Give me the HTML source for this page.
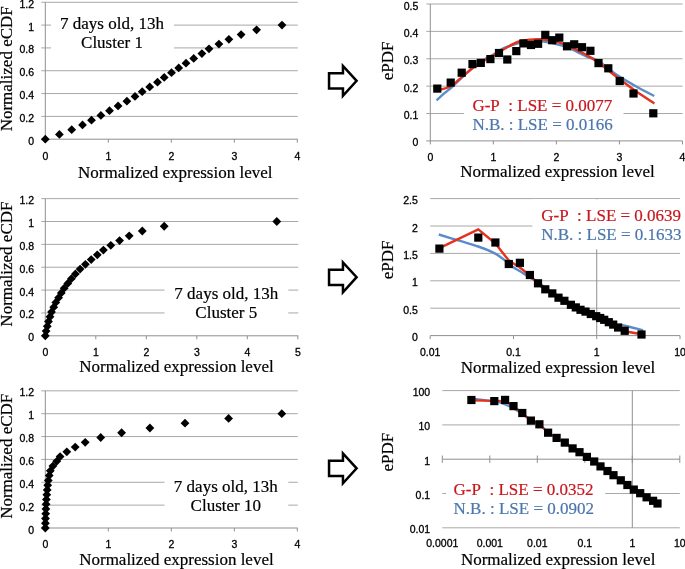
<!DOCTYPE html>
<html><head><meta charset="utf-8"><style>
html,body{margin:0;padding:0;background:#fff;}
body{width:685px;height:569px;overflow:hidden;}
svg{display:block;will-change:transform;filter:blur(0.3px);}
</style></head><body>
<svg width="685" height="569" viewBox="0 0 685 569">
<rect width="685" height="569" fill="#fff"/>
<line x1="41.3" y1="116.38" x2="297.8" y2="116.38" stroke="#a8a8a8" stroke-width="1"/>
<line x1="41.3" y1="93.56" x2="297.8" y2="93.56" stroke="#a8a8a8" stroke-width="1"/>
<line x1="41.3" y1="70.74" x2="297.8" y2="70.74" stroke="#a8a8a8" stroke-width="1"/>
<line x1="41.3" y1="47.92" x2="297.8" y2="47.92" stroke="#a8a8a8" stroke-width="1"/>
<line x1="41.3" y1="25.1" x2="297.8" y2="25.1" stroke="#a8a8a8" stroke-width="1"/>
<line x1="41.3" y1="2.28" x2="297.8" y2="2.28" stroke="#a8a8a8" stroke-width="1"/>
<line x1="45.3" y1="2.28" x2="45.3" y2="139.2" stroke="#8f8f8f" stroke-width="1"/>
<line x1="41.3" y1="139.2" x2="45.3" y2="139.2" stroke="#8f8f8f" stroke-width="1"/>
<line x1="45.3" y1="139.2" x2="297.8" y2="139.2" stroke="#8f8f8f" stroke-width="1"/>
<line x1="45.3" y1="139.2" x2="45.3" y2="142.7" stroke="#8f8f8f" stroke-width="1"/>
<line x1="108.3" y1="139.2" x2="108.3" y2="142.7" stroke="#8f8f8f" stroke-width="1"/>
<line x1="171.3" y1="139.2" x2="171.3" y2="142.7" stroke="#8f8f8f" stroke-width="1"/>
<line x1="234.3" y1="139.2" x2="234.3" y2="142.7" stroke="#8f8f8f" stroke-width="1"/>
<line x1="297.3" y1="139.2" x2="297.3" y2="142.7" stroke="#8f8f8f" stroke-width="1"/>
<rect x="51" y="14" width="123" height="40" fill="#fff"/>
<text x="34" y="144.7" text-anchor="end" font-family='"Liberation Sans", sans-serif' font-size="10.5" fill="#000" stroke="#000" stroke-width="0.3">0</text>
<text x="34" y="121.88" text-anchor="end" font-family='"Liberation Sans", sans-serif' font-size="10.5" fill="#000" stroke="#000" stroke-width="0.3">0.2</text>
<text x="34" y="99.06" text-anchor="end" font-family='"Liberation Sans", sans-serif' font-size="10.5" fill="#000" stroke="#000" stroke-width="0.3">0.4</text>
<text x="34" y="76.24" text-anchor="end" font-family='"Liberation Sans", sans-serif' font-size="10.5" fill="#000" stroke="#000" stroke-width="0.3">0.6</text>
<text x="34" y="53.42" text-anchor="end" font-family='"Liberation Sans", sans-serif' font-size="10.5" fill="#000" stroke="#000" stroke-width="0.3">0.8</text>
<text x="34" y="30.6" text-anchor="end" font-family='"Liberation Sans", sans-serif' font-size="10.5" fill="#000" stroke="#000" stroke-width="0.3">1</text>
<text x="34" y="7.78" text-anchor="end" font-family='"Liberation Sans", sans-serif' font-size="10.5" fill="#000" stroke="#000" stroke-width="0.3">1.2</text>
<text x="45.3" y="159.5" text-anchor="middle" font-family='"Liberation Sans", sans-serif' font-size="10.5" fill="#000" stroke="#000" stroke-width="0.3">0</text>
<text x="108.3" y="159.5" text-anchor="middle" font-family='"Liberation Sans", sans-serif' font-size="10.5" fill="#000" stroke="#000" stroke-width="0.3">1</text>
<text x="171.3" y="159.5" text-anchor="middle" font-family='"Liberation Sans", sans-serif' font-size="10.5" fill="#000" stroke="#000" stroke-width="0.3">2</text>
<text x="234.3" y="159.5" text-anchor="middle" font-family='"Liberation Sans", sans-serif' font-size="10.5" fill="#000" stroke="#000" stroke-width="0.3">3</text>
<text x="297.3" y="159.5" text-anchor="middle" font-family='"Liberation Sans", sans-serif' font-size="10.5" fill="#000" stroke="#000" stroke-width="0.3">4</text>
<text x="78" y="178" text-anchor="start" font-family='"Liberation Serif", serif' font-size="17" fill="#000" stroke="#000" stroke-width="0.2">Normalized expression level</text>
<text transform="translate(11.9,68.8) rotate(-90)" text-anchor="middle" font-family='"Liberation Serif", serif' font-size="17" fill="#000" stroke="#000" stroke-width="0.2">Normalized eCDF</text>
<text x="112" y="28.7" text-anchor="middle" font-family='"Liberation Serif", serif' font-size="17" fill="#000" stroke="#000" stroke-width="0.2">7 days old, 13h</text>
<text x="112" y="47.7" text-anchor="middle" font-family='"Liberation Serif", serif' font-size="17" fill="#000" stroke="#000" stroke-width="0.2">Cluster 1</text>
<polygon points="45.3,134.8 49.7,139.2 45.3,143.6 40.9,139.2" fill="#000"/>
<polygon points="59.4,130.05 63.8,134.45 59.4,138.85 55,134.45" fill="#000"/>
<polygon points="71.7,125.29 76.1,129.69 71.7,134.09 67.3,129.69" fill="#000"/>
<polygon points="82.5,120.54 86.9,124.94 82.5,129.34 78.1,124.94" fill="#000"/>
<polygon points="91.5,115.78 95.9,120.18 91.5,124.58 87.1,120.18" fill="#000"/>
<polygon points="100.9,111.03 105.3,115.43 100.9,119.83 96.5,115.43" fill="#000"/>
<polygon points="109.5,106.27 113.9,110.67 109.5,115.07 105.1,110.67" fill="#000"/>
<polygon points="118.1,101.52 122.5,105.92 118.1,110.32 113.7,105.92" fill="#000"/>
<polygon points="126.9,96.77 131.3,101.17 126.9,105.57 122.5,101.17" fill="#000"/>
<polygon points="135,92.01 139.4,96.41 135,100.81 130.6,96.41" fill="#000"/>
<polygon points="142.2,87.26 146.6,91.66 142.2,96.06 137.8,91.66" fill="#000"/>
<polygon points="149.7,82.5 154.1,86.9 149.7,91.3 145.3,86.9" fill="#000"/>
<polygon points="157.5,77.75 161.9,82.15 157.5,86.55 153.1,82.15" fill="#000"/>
<polygon points="164.2,73 168.6,77.4 164.2,81.8 159.8,77.4" fill="#000"/>
<polygon points="171.5,68.24 175.9,72.64 171.5,77.04 167.1,72.64" fill="#000"/>
<polygon points="178.7,63.49 183.1,67.89 178.7,72.29 174.3,67.89" fill="#000"/>
<polygon points="186,58.73 190.4,63.13 186,67.53 181.6,63.13" fill="#000"/>
<polygon points="193.7,53.98 198.1,58.38 193.7,62.78 189.3,58.38" fill="#000"/>
<polygon points="201.9,49.23 206.3,53.62 201.9,58.02 197.5,53.62" fill="#000"/>
<polygon points="209,44.47 213.4,48.87 209,53.27 204.6,48.87" fill="#000"/>
<polygon points="218.9,39.72 223.3,44.12 218.9,48.52 214.5,44.12" fill="#000"/>
<polygon points="228.9,34.96 233.3,39.36 228.9,43.76 224.5,39.36" fill="#000"/>
<polygon points="241.1,30.21 245.5,34.61 241.1,39.01 236.7,34.61" fill="#000"/>
<polygon points="256.6,25.45 261,29.85 256.6,34.25 252.2,29.85" fill="#000"/>
<polygon points="282,20.7 286.4,25.1 282,29.5 277.6,25.1" fill="#000"/>
<line x1="41.3" y1="312.94" x2="298.3" y2="312.94" stroke="#a8a8a8" stroke-width="1"/>
<line x1="41.3" y1="290.08" x2="298.3" y2="290.08" stroke="#a8a8a8" stroke-width="1"/>
<line x1="41.3" y1="267.22" x2="298.3" y2="267.22" stroke="#a8a8a8" stroke-width="1"/>
<line x1="41.3" y1="244.36" x2="298.3" y2="244.36" stroke="#a8a8a8" stroke-width="1"/>
<line x1="41.3" y1="221.5" x2="298.3" y2="221.5" stroke="#a8a8a8" stroke-width="1"/>
<line x1="41.3" y1="198.64" x2="298.3" y2="198.64" stroke="#a8a8a8" stroke-width="1"/>
<line x1="45.3" y1="198.64" x2="45.3" y2="335.8" stroke="#8f8f8f" stroke-width="1"/>
<line x1="41.3" y1="335.8" x2="45.3" y2="335.8" stroke="#8f8f8f" stroke-width="1"/>
<line x1="45.3" y1="335.8" x2="298.3" y2="335.8" stroke="#8f8f8f" stroke-width="1"/>
<line x1="45.3" y1="335.8" x2="45.3" y2="339.3" stroke="#8f8f8f" stroke-width="1"/>
<line x1="95.8" y1="335.8" x2="95.8" y2="339.3" stroke="#8f8f8f" stroke-width="1"/>
<line x1="146.3" y1="335.8" x2="146.3" y2="339.3" stroke="#8f8f8f" stroke-width="1"/>
<line x1="196.8" y1="335.8" x2="196.8" y2="339.3" stroke="#8f8f8f" stroke-width="1"/>
<line x1="247.3" y1="335.8" x2="247.3" y2="339.3" stroke="#8f8f8f" stroke-width="1"/>
<line x1="297.8" y1="335.8" x2="297.8" y2="339.3" stroke="#8f8f8f" stroke-width="1"/>
<rect x="164.5" y="284" width="123.8" height="40" fill="#fff"/>
<text x="34" y="341.3" text-anchor="end" font-family='"Liberation Sans", sans-serif' font-size="10.5" fill="#000" stroke="#000" stroke-width="0.3">0</text>
<text x="34" y="318.44" text-anchor="end" font-family='"Liberation Sans", sans-serif' font-size="10.5" fill="#000" stroke="#000" stroke-width="0.3">0.2</text>
<text x="34" y="295.58" text-anchor="end" font-family='"Liberation Sans", sans-serif' font-size="10.5" fill="#000" stroke="#000" stroke-width="0.3">0.4</text>
<text x="34" y="272.72" text-anchor="end" font-family='"Liberation Sans", sans-serif' font-size="10.5" fill="#000" stroke="#000" stroke-width="0.3">0.6</text>
<text x="34" y="249.86" text-anchor="end" font-family='"Liberation Sans", sans-serif' font-size="10.5" fill="#000" stroke="#000" stroke-width="0.3">0.8</text>
<text x="34" y="227" text-anchor="end" font-family='"Liberation Sans", sans-serif' font-size="10.5" fill="#000" stroke="#000" stroke-width="0.3">1</text>
<text x="34" y="204.14" text-anchor="end" font-family='"Liberation Sans", sans-serif' font-size="10.5" fill="#000" stroke="#000" stroke-width="0.3">1.2</text>
<text x="45.3" y="356.1" text-anchor="middle" font-family='"Liberation Sans", sans-serif' font-size="10.5" fill="#000" stroke="#000" stroke-width="0.3">0</text>
<text x="95.8" y="356.1" text-anchor="middle" font-family='"Liberation Sans", sans-serif' font-size="10.5" fill="#000" stroke="#000" stroke-width="0.3">1</text>
<text x="146.3" y="356.1" text-anchor="middle" font-family='"Liberation Sans", sans-serif' font-size="10.5" fill="#000" stroke="#000" stroke-width="0.3">2</text>
<text x="196.8" y="356.1" text-anchor="middle" font-family='"Liberation Sans", sans-serif' font-size="10.5" fill="#000" stroke="#000" stroke-width="0.3">3</text>
<text x="247.3" y="356.1" text-anchor="middle" font-family='"Liberation Sans", sans-serif' font-size="10.5" fill="#000" stroke="#000" stroke-width="0.3">4</text>
<text x="297.8" y="356.1" text-anchor="middle" font-family='"Liberation Sans", sans-serif' font-size="10.5" fill="#000" stroke="#000" stroke-width="0.3">5</text>
<text x="79.2" y="372.3" text-anchor="start" font-family='"Liberation Serif", serif' font-size="17" fill="#000" stroke="#000" stroke-width="0.2">Normalized expression level</text>
<text transform="translate(11.9,264.1) rotate(-90)" text-anchor="middle" font-family='"Liberation Serif", serif' font-size="17" fill="#000" stroke="#000" stroke-width="0.2">Normalized eCDF</text>
<text x="226.3" y="299.4" text-anchor="middle" font-family='"Liberation Serif", serif' font-size="17" fill="#000" stroke="#000" stroke-width="0.2">7 days old, 13h</text>
<text x="226.3" y="318.4" text-anchor="middle" font-family='"Liberation Serif", serif' font-size="17" fill="#000" stroke="#000" stroke-width="0.2">Cluster 5</text>
<polygon points="45.3,331.4 49.7,335.8 45.3,340.2 40.9,335.8" fill="#000"/>
<polygon points="46.1,326.64 50.5,331.04 46.1,335.44 41.7,331.04" fill="#000"/>
<polygon points="47.3,321.88 51.7,326.28 47.3,330.68 42.9,326.28" fill="#000"/>
<polygon points="48.5,317.11 52.9,321.51 48.5,325.91 44.1,321.51" fill="#000"/>
<polygon points="50,312.35 54.4,316.75 50,321.15 45.6,316.75" fill="#000"/>
<polygon points="51.5,307.59 55.9,311.99 51.5,316.39 47.1,311.99" fill="#000"/>
<polygon points="53.7,302.83 58.1,307.23 53.7,311.62 49.3,307.23" fill="#000"/>
<polygon points="55.8,298.06 60.2,302.46 55.8,306.86 51.4,302.46" fill="#000"/>
<polygon points="58.6,293.3 63,297.7 58.6,302.1 54.2,297.7" fill="#000"/>
<polygon points="61.3,288.54 65.7,292.94 61.3,297.34 56.9,292.94" fill="#000"/>
<polygon points="64.2,283.78 68.6,288.18 64.2,292.57 59.8,288.18" fill="#000"/>
<polygon points="67.8,279.01 72.2,283.41 67.8,287.81 63.4,283.41" fill="#000"/>
<polygon points="71.4,274.25 75.8,278.65 71.4,283.05 67,278.65" fill="#000"/>
<polygon points="75.4,269.49 79.8,273.89 75.4,278.29 71,273.89" fill="#000"/>
<polygon points="80.1,264.73 84.5,269.12 80.1,273.52 75.7,269.12" fill="#000"/>
<polygon points="85.4,259.96 89.8,264.36 85.4,268.76 81,264.36" fill="#000"/>
<polygon points="91.2,255.2 95.6,259.6 91.2,264 86.8,259.6" fill="#000"/>
<polygon points="97.3,250.44 101.7,254.84 97.3,259.24 92.9,254.84" fill="#000"/>
<polygon points="103.4,245.67 107.8,250.07 103.4,254.47 99,250.07" fill="#000"/>
<polygon points="110.8,240.91 115.2,245.31 110.8,249.71 106.4,245.31" fill="#000"/>
<polygon points="119.6,236.15 124,240.55 119.6,244.95 115.2,240.55" fill="#000"/>
<polygon points="129.2,231.39 133.6,235.79 129.2,240.19 124.8,235.79" fill="#000"/>
<polygon points="142.3,226.62 146.7,231.03 142.3,235.43 137.9,231.03" fill="#000"/>
<polygon points="164.2,221.86 168.6,226.26 164.2,230.66 159.8,226.26" fill="#000"/>
<polygon points="276.8,217.1 281.2,221.5 276.8,225.9 272.4,221.5" fill="#000"/>
<line x1="41.3" y1="505.14" x2="297.8" y2="505.14" stroke="#a8a8a8" stroke-width="1"/>
<line x1="41.3" y1="482.28" x2="297.8" y2="482.28" stroke="#a8a8a8" stroke-width="1"/>
<line x1="41.3" y1="459.42" x2="297.8" y2="459.42" stroke="#a8a8a8" stroke-width="1"/>
<line x1="41.3" y1="436.56" x2="297.8" y2="436.56" stroke="#a8a8a8" stroke-width="1"/>
<line x1="41.3" y1="413.7" x2="297.8" y2="413.7" stroke="#a8a8a8" stroke-width="1"/>
<line x1="41.3" y1="390.84" x2="297.8" y2="390.84" stroke="#a8a8a8" stroke-width="1"/>
<line x1="45.3" y1="390.84" x2="45.3" y2="528" stroke="#8f8f8f" stroke-width="1"/>
<line x1="41.3" y1="528" x2="45.3" y2="528" stroke="#8f8f8f" stroke-width="1"/>
<line x1="45.3" y1="528" x2="297.8" y2="528" stroke="#8f8f8f" stroke-width="1"/>
<line x1="45.3" y1="528" x2="45.3" y2="531.5" stroke="#8f8f8f" stroke-width="1"/>
<line x1="108.3" y1="528" x2="108.3" y2="531.5" stroke="#8f8f8f" stroke-width="1"/>
<line x1="171.3" y1="528" x2="171.3" y2="531.5" stroke="#8f8f8f" stroke-width="1"/>
<line x1="234.3" y1="528" x2="234.3" y2="531.5" stroke="#8f8f8f" stroke-width="1"/>
<line x1="297.3" y1="528" x2="297.3" y2="531.5" stroke="#8f8f8f" stroke-width="1"/>
<rect x="164.5" y="476" width="123.8" height="40" fill="#fff"/>
<text x="34" y="533.5" text-anchor="end" font-family='"Liberation Sans", sans-serif' font-size="10.5" fill="#000" stroke="#000" stroke-width="0.3">0</text>
<text x="34" y="510.64" text-anchor="end" font-family='"Liberation Sans", sans-serif' font-size="10.5" fill="#000" stroke="#000" stroke-width="0.3">0.2</text>
<text x="34" y="487.78" text-anchor="end" font-family='"Liberation Sans", sans-serif' font-size="10.5" fill="#000" stroke="#000" stroke-width="0.3">0.4</text>
<text x="34" y="464.92" text-anchor="end" font-family='"Liberation Sans", sans-serif' font-size="10.5" fill="#000" stroke="#000" stroke-width="0.3">0.6</text>
<text x="34" y="442.06" text-anchor="end" font-family='"Liberation Sans", sans-serif' font-size="10.5" fill="#000" stroke="#000" stroke-width="0.3">0.8</text>
<text x="34" y="419.2" text-anchor="end" font-family='"Liberation Sans", sans-serif' font-size="10.5" fill="#000" stroke="#000" stroke-width="0.3">1</text>
<text x="34" y="396.34" text-anchor="end" font-family='"Liberation Sans", sans-serif' font-size="10.5" fill="#000" stroke="#000" stroke-width="0.3">1.2</text>
<text x="45.3" y="548.3" text-anchor="middle" font-family='"Liberation Sans", sans-serif' font-size="10.5" fill="#000" stroke="#000" stroke-width="0.3">0</text>
<text x="108.3" y="548.3" text-anchor="middle" font-family='"Liberation Sans", sans-serif' font-size="10.5" fill="#000" stroke="#000" stroke-width="0.3">1</text>
<text x="171.3" y="548.3" text-anchor="middle" font-family='"Liberation Sans", sans-serif' font-size="10.5" fill="#000" stroke="#000" stroke-width="0.3">2</text>
<text x="234.3" y="548.3" text-anchor="middle" font-family='"Liberation Sans", sans-serif' font-size="10.5" fill="#000" stroke="#000" stroke-width="0.3">3</text>
<text x="297.3" y="548.3" text-anchor="middle" font-family='"Liberation Sans", sans-serif' font-size="10.5" fill="#000" stroke="#000" stroke-width="0.3">4</text>
<text x="79.2" y="565.2" text-anchor="start" font-family='"Liberation Serif", serif' font-size="17" fill="#000" stroke="#000" stroke-width="0.2">Normalized expression level</text>
<text transform="translate(11.9,456.3) rotate(-90)" text-anchor="middle" font-family='"Liberation Serif", serif' font-size="17" fill="#000" stroke="#000" stroke-width="0.2">Normalized eCDF</text>
<text x="225.8" y="491.5" text-anchor="middle" font-family='"Liberation Serif", serif' font-size="17" fill="#000" stroke="#000" stroke-width="0.2">7 days old, 13h</text>
<text x="225.8" y="510.5" text-anchor="middle" font-family='"Liberation Serif", serif' font-size="17" fill="#000" stroke="#000" stroke-width="0.2">Cluster 10</text>
<polygon points="45.3,523.6 49.7,528 45.3,532.4 40.9,528" fill="#000"/>
<polygon points="45.4,518.84 49.8,523.24 45.4,527.64 41,523.24" fill="#000"/>
<polygon points="45.5,514.08 49.9,518.48 45.5,522.88 41.1,518.48" fill="#000"/>
<polygon points="45.7,509.31 50.1,513.71 45.7,518.11 41.3,513.71" fill="#000"/>
<polygon points="45.9,504.55 50.3,508.95 45.9,513.35 41.5,508.95" fill="#000"/>
<polygon points="46.1,499.79 50.5,504.19 46.1,508.59 41.7,504.19" fill="#000"/>
<polygon points="46.4,495.03 50.8,499.43 46.4,503.82 42,499.43" fill="#000"/>
<polygon points="46.8,490.26 51.2,494.66 46.8,499.06 42.4,494.66" fill="#000"/>
<polygon points="47.2,485.5 51.6,489.9 47.2,494.3 42.8,489.9" fill="#000"/>
<polygon points="47.7,480.74 52.1,485.14 47.7,489.54 43.3,485.14" fill="#000"/>
<polygon points="48.3,475.98 52.7,480.38 48.3,484.77 43.9,480.38" fill="#000"/>
<polygon points="49.2,471.21 53.6,475.61 49.2,480.01 44.8,475.61" fill="#000"/>
<polygon points="50.3,466.45 54.7,470.85 50.3,475.25 45.9,470.85" fill="#000"/>
<polygon points="52.9,461.69 57.3,466.09 52.9,470.49 48.5,466.09" fill="#000"/>
<polygon points="56.7,456.93 61.1,461.32 56.7,465.72 52.3,461.32" fill="#000"/>
<polygon points="60.1,452.16 64.5,456.56 60.1,460.96 55.7,456.56" fill="#000"/>
<polygon points="66.8,447.4 71.2,451.8 66.8,456.2 62.4,451.8" fill="#000"/>
<polygon points="75.2,442.64 79.6,447.04 75.2,451.44 70.8,447.04" fill="#000"/>
<polygon points="85.2,437.88 89.6,442.27 85.2,446.67 80.8,442.27" fill="#000"/>
<polygon points="100.7,433.11 105.1,437.51 100.7,441.91 96.3,437.51" fill="#000"/>
<polygon points="121.6,428.35 126,432.75 121.6,437.15 117.2,432.75" fill="#000"/>
<polygon points="149.9,423.59 154.3,427.99 149.9,432.39 145.5,427.99" fill="#000"/>
<polygon points="185,418.83 189.4,423.23 185,427.62 180.6,423.23" fill="#000"/>
<polygon points="228.6,414.06 233,418.46 228.6,422.86 224.2,418.46" fill="#000"/>
<polygon points="281.8,409.3 286.2,413.7 281.8,418.1 277.4,413.7" fill="#000"/>
<polygon points="329.05,73.25 342.95,73.25 342.95,65.95 356.6,80.8 342.95,95.85 342.95,88.55 329.05,88.55" fill="#fff" stroke="#000" stroke-width="2.5" stroke-linejoin="miter" stroke-miterlimit="10"/>
<polygon points="329.05,269.65 342.95,269.65 342.95,262.35 356.6,277.2 342.95,292.25 342.95,284.95 329.05,284.95" fill="#fff" stroke="#000" stroke-width="2.5" stroke-linejoin="miter" stroke-miterlimit="10"/>
<polygon points="329.05,460.75 342.95,460.75 342.95,453.45 356.6,468.3 342.95,483.35 342.95,476.05 329.05,476.05" fill="#fff" stroke="#000" stroke-width="2.5" stroke-linejoin="miter" stroke-miterlimit="10"/>
<line x1="426.3" y1="113.52" x2="682.5" y2="113.52" stroke="#a8a8a8" stroke-width="1"/>
<line x1="426.3" y1="86.14" x2="682.5" y2="86.14" stroke="#a8a8a8" stroke-width="1"/>
<line x1="426.3" y1="58.76" x2="682.5" y2="58.76" stroke="#a8a8a8" stroke-width="1"/>
<line x1="426.3" y1="31.38" x2="682.5" y2="31.38" stroke="#a8a8a8" stroke-width="1"/>
<line x1="426.3" y1="4" x2="682.5" y2="4" stroke="#a8a8a8" stroke-width="1"/>
<line x1="430.3" y1="4" x2="430.3" y2="140.9" stroke="#8f8f8f" stroke-width="1"/>
<line x1="426.3" y1="140.9" x2="682.5" y2="140.9" stroke="#8f8f8f" stroke-width="1"/>
<line x1="430.3" y1="140.9" x2="430.3" y2="144.4" stroke="#8f8f8f" stroke-width="1"/>
<line x1="493.35" y1="140.9" x2="493.35" y2="144.4" stroke="#8f8f8f" stroke-width="1"/>
<line x1="556.4" y1="140.9" x2="556.4" y2="144.4" stroke="#8f8f8f" stroke-width="1"/>
<line x1="619.45" y1="140.9" x2="619.45" y2="144.4" stroke="#8f8f8f" stroke-width="1"/>
<line x1="682.5" y1="140.9" x2="682.5" y2="144.4" stroke="#8f8f8f" stroke-width="1"/>
<rect x="463.9" y="95" width="159.6" height="37" fill="#fff"/>
<text x="418.3" y="146.4" text-anchor="end" font-family='"Liberation Sans", sans-serif' font-size="10.5" fill="#000" stroke="#000" stroke-width="0.3">0</text>
<text x="418.3" y="119.02" text-anchor="end" font-family='"Liberation Sans", sans-serif' font-size="10.5" fill="#000" stroke="#000" stroke-width="0.3">0.1</text>
<text x="418.3" y="91.64" text-anchor="end" font-family='"Liberation Sans", sans-serif' font-size="10.5" fill="#000" stroke="#000" stroke-width="0.3">0.2</text>
<text x="418.3" y="64.26" text-anchor="end" font-family='"Liberation Sans", sans-serif' font-size="10.5" fill="#000" stroke="#000" stroke-width="0.3">0.3</text>
<text x="418.3" y="36.88" text-anchor="end" font-family='"Liberation Sans", sans-serif' font-size="10.5" fill="#000" stroke="#000" stroke-width="0.3">0.4</text>
<text x="418.3" y="9.5" text-anchor="end" font-family='"Liberation Sans", sans-serif' font-size="10.5" fill="#000" stroke="#000" stroke-width="0.3">0.5</text>
<text x="430.3" y="161.2" text-anchor="middle" font-family='"Liberation Sans", sans-serif' font-size="10.5" fill="#000" stroke="#000" stroke-width="0.3">0</text>
<text x="493.35" y="161.2" text-anchor="middle" font-family='"Liberation Sans", sans-serif' font-size="10.5" fill="#000" stroke="#000" stroke-width="0.3">1</text>
<text x="556.4" y="161.2" text-anchor="middle" font-family='"Liberation Sans", sans-serif' font-size="10.5" fill="#000" stroke="#000" stroke-width="0.3">2</text>
<text x="619.45" y="161.2" text-anchor="middle" font-family='"Liberation Sans", sans-serif' font-size="10.5" fill="#000" stroke="#000" stroke-width="0.3">3</text>
<text x="682.5" y="161.2" text-anchor="middle" font-family='"Liberation Sans", sans-serif' font-size="10.5" fill="#000" stroke="#000" stroke-width="0.3">4</text>
<text x="460.3" y="177.2" text-anchor="start" font-family='"Liberation Serif", serif' font-size="17" fill="#000" stroke="#000" stroke-width="0.2">Normalized expression level</text>
<text transform="translate(393.2,61) rotate(-90)" text-anchor="middle" font-family='"Liberation Serif", serif' font-size="17" fill="#000" stroke="#000" stroke-width="0.2">ePDF</text>
<path d="M436.5,100.3 C437.88,99.07 442.18,95.15 444.8,92.9 C447.42,90.65 449.33,89.37 452.2,86.8 C455.07,84.23 458.52,80.77 462,77.5 C465.48,74.23 469.62,70.07 473.1,67.2 C476.58,64.33 479.42,62.47 482.9,60.3 C486.38,58.13 490.52,56.22 494,54.2 C497.48,52.18 499.97,49.98 503.8,48.2 C507.63,46.42 512.63,44.67 517,43.5 C521.37,42.33 525.53,41.52 530,41.2 C534.47,40.88 538.58,40.9 543.8,41.6 C549.02,42.3 556.43,44.03 561.3,45.4 C566.17,46.77 568.62,47.85 573,49.8 C577.38,51.75 583.6,55.38 587.6,57.1 C591.6,58.82 592.28,57.23 597,60.1 C601.72,62.97 609.58,70.03 615.9,74.3 C622.22,78.57 628.52,82.08 634.9,85.7 C641.28,89.32 650.98,94.28 654.2,96" fill="none" stroke="#5a8cc8" stroke-width="2.4" stroke-linecap="butt"/>
<path d="M436.5,90.5 C438.9,89.78 446.65,88.47 450.9,86.2 C455.15,83.93 458.3,79.98 462,76.9 C465.7,73.82 469.62,70.27 473.1,67.7 C476.58,65.13 479.42,63.65 482.9,61.5 C486.38,59.35 490.52,56.85 494,54.8 C497.48,52.75 499.88,51.33 503.8,49.2 C507.72,47.07 513.27,43.57 517.5,42 C521.73,40.43 525.3,40.25 529.2,39.8 C533.1,39.35 537.25,39.17 540.9,39.3 C544.55,39.43 547.7,39.95 551.1,40.6 C554.5,41.25 557.65,41.93 561.3,43.2 C564.95,44.47 569.1,46.4 573,48.2 C576.9,50 580.7,51.78 584.7,54 C588.7,56.22 591.8,57.8 597,61.5 C602.2,65.2 609.58,71.37 615.9,76.2 C622.22,81.03 628.48,85.97 634.9,90.5 C641.32,95.03 651.15,101.25 654.4,103.4" fill="none" stroke="#e5321d" stroke-width="2.4" stroke-linecap="butt"/>
<rect x="433.2" y="84.5" width="8.2" height="8.2" fill="#000"/>
<rect x="446.6" y="78.5" width="8.2" height="8.2" fill="#000"/>
<rect x="457.6" y="68.6" width="8.2" height="8.2" fill="#000"/>
<rect x="468.4" y="60" width="8.2" height="8.2" fill="#000"/>
<rect x="476.7" y="58.8" width="8.2" height="8.2" fill="#000"/>
<rect x="486.3" y="55" width="8.2" height="8.2" fill="#000"/>
<rect x="494.9" y="48.9" width="8.2" height="8.2" fill="#000"/>
<rect x="503.2" y="55.4" width="8.2" height="8.2" fill="#000"/>
<rect x="512.2" y="47" width="8.2" height="8.2" fill="#000"/>
<rect x="519.3" y="39.3" width="8.2" height="8.2" fill="#000"/>
<rect x="526.9" y="40.9" width="8.2" height="8.2" fill="#000"/>
<rect x="534" y="39.7" width="8.2" height="8.2" fill="#000"/>
<rect x="541.2" y="30.8" width="8.2" height="8.2" fill="#000"/>
<rect x="548.1" y="36.1" width="8.2" height="8.2" fill="#000"/>
<rect x="555.2" y="33.5" width="8.2" height="8.2" fill="#000"/>
<rect x="562.9" y="42.2" width="8.2" height="8.2" fill="#000"/>
<rect x="570.1" y="40.2" width="8.2" height="8.2" fill="#000"/>
<rect x="577.9" y="43.1" width="8.2" height="8.2" fill="#000"/>
<rect x="586.3" y="46.7" width="8.2" height="8.2" fill="#000"/>
<rect x="594.4" y="59" width="8.2" height="8.2" fill="#000"/>
<rect x="604.2" y="64.2" width="8.2" height="8.2" fill="#000"/>
<rect x="615.6" y="76.9" width="8.2" height="8.2" fill="#000"/>
<rect x="629.4" y="89.4" width="8.2" height="8.2" fill="#000"/>
<rect x="649.2" y="109.2" width="8.2" height="8.2" fill="#000"/>
<text x="472.4" y="111.1" text-anchor="start" font-family='"Liberation Serif", serif' font-size="17" fill="#c8171d" stroke="#c8171d" stroke-width="0.2">G-P&#160; : LSE = 0.0077</text>
<text x="472.4" y="130.3" text-anchor="start" font-family='"Liberation Serif", serif' font-size="17" fill="#4c76ae" stroke="#4c76ae" stroke-width="0.2">N.B. : LSE = 0.0166</text>
<line x1="430.2" y1="308.2" x2="680.01" y2="308.2" stroke="#a8a8a8" stroke-width="1"/>
<line x1="430.2" y1="280.8" x2="680.01" y2="280.8" stroke="#a8a8a8" stroke-width="1"/>
<line x1="430.2" y1="253.4" x2="680.01" y2="253.4" stroke="#a8a8a8" stroke-width="1"/>
<line x1="430.2" y1="226" x2="680.01" y2="226" stroke="#a8a8a8" stroke-width="1"/>
<line x1="430.2" y1="198.6" x2="680.01" y2="198.6" stroke="#a8a8a8" stroke-width="1"/>
<line x1="430.2" y1="335.6" x2="680.01" y2="335.6" stroke="#8f8f8f" stroke-width="1"/>
<line x1="596.74" y1="198.6" x2="596.74" y2="335.6" stroke="#8f8f8f" stroke-width="1"/>
<line x1="430.2" y1="335.6" x2="430.2" y2="339.1" stroke="#8f8f8f" stroke-width="1"/>
<line x1="513.47" y1="335.6" x2="513.47" y2="339.1" stroke="#8f8f8f" stroke-width="1"/>
<line x1="596.74" y1="335.6" x2="596.74" y2="339.1" stroke="#8f8f8f" stroke-width="1"/>
<line x1="680.01" y1="335.6" x2="680.01" y2="339.1" stroke="#8f8f8f" stroke-width="1"/>
<rect x="532.4" y="199.3" width="152.6" height="50" fill="#fff"/>
<text x="417.9" y="341.1" text-anchor="end" font-family='"Liberation Sans", sans-serif' font-size="10.5" fill="#000" stroke="#000" stroke-width="0.3">0</text>
<text x="417.9" y="313.7" text-anchor="end" font-family='"Liberation Sans", sans-serif' font-size="10.5" fill="#000" stroke="#000" stroke-width="0.3">0.5</text>
<text x="417.9" y="286.3" text-anchor="end" font-family='"Liberation Sans", sans-serif' font-size="10.5" fill="#000" stroke="#000" stroke-width="0.3">1</text>
<text x="417.9" y="258.9" text-anchor="end" font-family='"Liberation Sans", sans-serif' font-size="10.5" fill="#000" stroke="#000" stroke-width="0.3">1.5</text>
<text x="417.9" y="231.5" text-anchor="end" font-family='"Liberation Sans", sans-serif' font-size="10.5" fill="#000" stroke="#000" stroke-width="0.3">2</text>
<text x="417.9" y="204.1" text-anchor="end" font-family='"Liberation Sans", sans-serif' font-size="10.5" fill="#000" stroke="#000" stroke-width="0.3">2.5</text>
<text x="430.2" y="355.9" text-anchor="middle" font-family='"Liberation Sans", sans-serif' font-size="10.5" fill="#000" stroke="#000" stroke-width="0.3">0.01</text>
<text x="513.47" y="355.9" text-anchor="middle" font-family='"Liberation Sans", sans-serif' font-size="10.5" fill="#000" stroke="#000" stroke-width="0.3">0.1</text>
<text x="596.74" y="355.9" text-anchor="middle" font-family='"Liberation Sans", sans-serif' font-size="10.5" fill="#000" stroke="#000" stroke-width="0.3">1</text>
<text x="680.01" y="355.9" text-anchor="middle" font-family='"Liberation Sans", sans-serif' font-size="10.5" fill="#000" stroke="#000" stroke-width="0.3">10</text>
<text x="460.8" y="372.7" text-anchor="start" font-family='"Liberation Serif", serif' font-size="17" fill="#000" stroke="#000" stroke-width="0.2">Normalized expression level</text>
<text transform="translate(393.4,259.9) rotate(-90)" text-anchor="middle" font-family='"Liberation Serif", serif' font-size="17" fill="#000" stroke="#000" stroke-width="0.2">ePDF</text>
<path d="M438.8,234.5 C442.2,235.53 452.63,238.7 459.2,240.7 C465.77,242.7 472.6,244.57 478.2,246.5 C483.8,248.43 489.17,250.6 492.8,252.3 C496.43,254 497.82,255.23 500,256.7 C502.18,258.17 503.93,259.52 505.9,261.1 C507.87,262.68 509.45,264.5 511.8,266.2 C514.15,267.9 516.98,269.42 520,271.3 C523.02,273.18 526.9,275.75 529.9,277.5 C532.9,279.25 535.43,280.08 538,281.8 C540.57,283.52 542.92,286.12 545.3,287.8 C547.68,289.48 550.1,290.5 552.3,291.9 C554.5,293.3 556.48,294.97 558.5,296.2 C560.52,297.43 562.33,298.12 564.4,299.3 C566.47,300.48 569,302.2 570.9,303.3 C572.8,304.4 574.2,305.07 575.8,305.9 C577.4,306.73 578.88,307.6 580.5,308.3 C582.12,309 583.78,309.4 585.5,310.1 C587.22,310.8 589.02,311.73 590.8,312.5 C592.58,313.27 594.63,314.03 596.2,314.7 C597.77,315.37 598.87,315.9 600.2,316.5 C601.53,317.1 602.77,317.6 604.2,318.3 C605.63,319 607.3,319.9 608.8,320.7 C610.3,321.5 611.65,322.22 613.2,323.1 C614.75,323.98 616.52,325.65 618.1,326 C619.68,326.35 618.55,324.48 622.7,325.2 C626.85,325.92 639.62,329.45 643,330.3" fill="none" stroke="#5a8cc8" stroke-width="2.4" stroke-linecap="butt"/>
<polyline points="439.4,248.2 478.3,229.3 495.4,243.5 508.8,260.5 519.9,267.5 529.9,275.5 538,283.8 545.3,289.8 552.3,293.9 558.5,298.2 564.4,301.3 570.9,305.3 575.8,307.9 580.5,310.3 585.5,312.1 590.8,314.5 596.2,316.7 600.2,318.5 604.2,320.3 608.8,322.7 613.2,325.1 618.1,328 624.7,331.3 641.5,334.2" fill="none" stroke="#e5321d" stroke-width="2.4" stroke-linejoin="round" stroke-linecap="butt"/>
<rect x="435.3" y="244.5" width="8.2" height="8.2" fill="#000"/>
<rect x="474.2" y="233.5" width="8.2" height="8.2" fill="#000"/>
<rect x="491.3" y="238.4" width="8.2" height="8.2" fill="#000"/>
<rect x="504.7" y="259.9" width="8.2" height="8.2" fill="#000"/>
<rect x="515.8" y="258.7" width="8.2" height="8.2" fill="#000"/>
<rect x="525.8" y="270.9" width="8.2" height="8.2" fill="#000"/>
<rect x="533.9" y="279.2" width="8.2" height="8.2" fill="#000"/>
<rect x="541.2" y="285.2" width="8.2" height="8.2" fill="#000"/>
<rect x="548.2" y="289.3" width="8.2" height="8.2" fill="#000"/>
<rect x="554.4" y="293.6" width="8.2" height="8.2" fill="#000"/>
<rect x="560.3" y="296.7" width="8.2" height="8.2" fill="#000"/>
<rect x="566.8" y="300.7" width="8.2" height="8.2" fill="#000"/>
<rect x="571.7" y="303.3" width="8.2" height="8.2" fill="#000"/>
<rect x="576.4" y="305.7" width="8.2" height="8.2" fill="#000"/>
<rect x="581.4" y="307.5" width="8.2" height="8.2" fill="#000"/>
<rect x="586.7" y="309.9" width="8.2" height="8.2" fill="#000"/>
<rect x="592.1" y="312.1" width="8.2" height="8.2" fill="#000"/>
<rect x="596.1" y="313.9" width="8.2" height="8.2" fill="#000"/>
<rect x="600.1" y="315.7" width="8.2" height="8.2" fill="#000"/>
<rect x="604.7" y="318.1" width="8.2" height="8.2" fill="#000"/>
<rect x="609.1" y="320.5" width="8.2" height="8.2" fill="#000"/>
<rect x="614" y="323.4" width="8.2" height="8.2" fill="#000"/>
<rect x="620.6" y="326.7" width="8.2" height="8.2" fill="#000"/>
<rect x="637.4" y="330.4" width="8.2" height="8.2" fill="#000"/>
<text x="541.2" y="220.5" text-anchor="start" font-family='"Liberation Serif", serif' font-size="17" fill="#c8171d" stroke="#c8171d" stroke-width="0.2">G-P&#160; : LSE = 0.0639</text>
<text x="541.2" y="239.7" text-anchor="start" font-family='"Liberation Serif", serif' font-size="17" fill="#4c76ae" stroke="#4c76ae" stroke-width="0.2">N.B. : LSE = 0.1633</text>
<line x1="442.3" y1="527.8" x2="679.8" y2="527.8" stroke="#a8a8a8" stroke-width="1"/>
<line x1="442.3" y1="493.5" x2="679.8" y2="493.5" stroke="#a8a8a8" stroke-width="1"/>
<line x1="442.3" y1="424.9" x2="679.8" y2="424.9" stroke="#a8a8a8" stroke-width="1"/>
<line x1="442.3" y1="390.6" x2="679.8" y2="390.6" stroke="#a8a8a8" stroke-width="1"/>
<line x1="442.3" y1="459.2" x2="679.8" y2="459.2" stroke="#8f8f8f" stroke-width="1"/>
<line x1="442.3" y1="455.5" x2="442.3" y2="462.9" stroke="#8f8f8f" stroke-width="1"/>
<line x1="489.8" y1="455.5" x2="489.8" y2="462.9" stroke="#8f8f8f" stroke-width="1"/>
<line x1="537.3" y1="455.5" x2="537.3" y2="462.9" stroke="#8f8f8f" stroke-width="1"/>
<line x1="584.8" y1="455.5" x2="584.8" y2="462.9" stroke="#8f8f8f" stroke-width="1"/>
<line x1="632.3" y1="455.5" x2="632.3" y2="462.9" stroke="#8f8f8f" stroke-width="1"/>
<line x1="679.8" y1="455.5" x2="679.8" y2="462.9" stroke="#8f8f8f" stroke-width="1"/>
<line x1="632.3" y1="390.6" x2="632.3" y2="527.8" stroke="#8f8f8f" stroke-width="1"/>
<rect x="446" y="480" width="159.2" height="38" fill="#fff"/>
<text x="430.2" y="533.3" text-anchor="end" font-family='"Liberation Sans", sans-serif' font-size="10.5" fill="#000" stroke="#000" stroke-width="0.3">0.01</text>
<text x="430.2" y="499" text-anchor="end" font-family='"Liberation Sans", sans-serif' font-size="10.5" fill="#000" stroke="#000" stroke-width="0.3">0.1</text>
<text x="430.2" y="464.7" text-anchor="end" font-family='"Liberation Sans", sans-serif' font-size="10.5" fill="#000" stroke="#000" stroke-width="0.3">1</text>
<text x="430.2" y="430.4" text-anchor="end" font-family='"Liberation Sans", sans-serif' font-size="10.5" fill="#000" stroke="#000" stroke-width="0.3">10</text>
<text x="430.2" y="396.1" text-anchor="end" font-family='"Liberation Sans", sans-serif' font-size="10.5" fill="#000" stroke="#000" stroke-width="0.3">100</text>
<text x="442.3" y="547.1" text-anchor="middle" font-family='"Liberation Sans", sans-serif' font-size="10.5" fill="#000" stroke="#000" stroke-width="0.3">0.0001</text>
<text x="489.8" y="547.1" text-anchor="middle" font-family='"Liberation Sans", sans-serif' font-size="10.5" fill="#000" stroke="#000" stroke-width="0.3">0.001</text>
<text x="537.3" y="547.1" text-anchor="middle" font-family='"Liberation Sans", sans-serif' font-size="10.5" fill="#000" stroke="#000" stroke-width="0.3">0.01</text>
<text x="584.8" y="547.1" text-anchor="middle" font-family='"Liberation Sans", sans-serif' font-size="10.5" fill="#000" stroke="#000" stroke-width="0.3">0.1</text>
<text x="632.3" y="547.1" text-anchor="middle" font-family='"Liberation Sans", sans-serif' font-size="10.5" fill="#000" stroke="#000" stroke-width="0.3">1</text>
<text x="679.8" y="547.1" text-anchor="middle" font-family='"Liberation Sans", sans-serif' font-size="10.5" fill="#000" stroke="#000" stroke-width="0.3">10</text>
<text x="460.9" y="565.1" text-anchor="start" font-family='"Liberation Serif", serif' font-size="17" fill="#000" stroke="#000" stroke-width="0.2">Normalized expression level</text>
<text transform="translate(393.4,452.2) rotate(-90)" text-anchor="middle" font-family='"Liberation Serif", serif' font-size="17" fill="#000" stroke="#000" stroke-width="0.2">ePDF</text>
<path d="M471.4,398.5 C475.22,399 488.68,400.5 494.3,401.5 C499.92,402.5 501.9,403.33 505.1,404.5 C508.3,405.67 510.63,406.92 513.5,408.5 C516.37,410.08 519.4,411.98 522.3,414 C525.2,416.02 528.05,418.88 530.9,420.6 C533.75,422.32 536.53,422.28 539.4,424.3 C542.27,426.32 545.23,430.43 548.1,432.7 C550.97,434.97 553.82,436.25 556.6,437.9 C559.38,439.55 562.13,440.85 564.8,442.6 C567.47,444.35 570.15,446.8 572.6,448.4 C575.05,450 577.12,450.78 579.5,452.2 C581.88,453.62 584.45,455.35 586.9,456.9 C589.35,458.45 591.93,459.92 594.2,461.5 C596.47,463.08 598.28,464.82 600.5,466.4 C602.72,467.98 605.33,469.53 607.5,471 C609.67,472.47 611.28,473.65 613.5,475.2 C615.72,476.75 618.48,478.67 620.8,480.3 C623.12,481.93 625.23,483.45 627.4,485 C629.57,486.55 631.67,488.23 633.8,489.6 C635.93,490.97 638.07,491.92 640.2,493.2 C642.33,494.48 644.45,496.03 646.6,497.3 C648.75,498.57 651.28,499.77 653.1,500.8 C654.92,501.83 656.77,503.05 657.5,503.5" fill="none" stroke="#5a8cc8" stroke-width="2" stroke-linecap="butt"/>
<polyline points="471.4,400.3 494.3,400.8 505.1,401 513.5,406.5 522.3,413 530.9,420.6 539.4,424.3 548.1,432.7 556.6,437.9 564.8,442.6 572.6,448.4 579.5,452.2 586.9,456.9 594.2,461.5 600.5,466.4 607.5,471 613.5,475.2 620.8,480.3 627.4,485 633.8,489.6 640.2,493.2 646.6,497.3 653.1,500.8 657.5,503.5" fill="none" stroke="#e5321d" stroke-width="2.2" stroke-linejoin="round" stroke-linecap="butt"/>
<rect x="467.3" y="395.9" width="8.2" height="8.2" fill="#000"/>
<rect x="490.2" y="397" width="8.2" height="8.2" fill="#000"/>
<rect x="501" y="395.8" width="8.2" height="8.2" fill="#000"/>
<rect x="509.4" y="402" width="8.2" height="8.2" fill="#000"/>
<rect x="518.2" y="408.9" width="8.2" height="8.2" fill="#000"/>
<rect x="526.8" y="416.5" width="8.2" height="8.2" fill="#000"/>
<rect x="535.3" y="420.2" width="8.2" height="8.2" fill="#000"/>
<rect x="544" y="428.6" width="8.2" height="8.2" fill="#000"/>
<rect x="552.5" y="433.8" width="8.2" height="8.2" fill="#000"/>
<rect x="560.7" y="438.5" width="8.2" height="8.2" fill="#000"/>
<rect x="568.5" y="444.3" width="8.2" height="8.2" fill="#000"/>
<rect x="575.4" y="448.1" width="8.2" height="8.2" fill="#000"/>
<rect x="582.8" y="452.8" width="8.2" height="8.2" fill="#000"/>
<rect x="590.1" y="457.4" width="8.2" height="8.2" fill="#000"/>
<rect x="596.4" y="462.3" width="8.2" height="8.2" fill="#000"/>
<rect x="603.4" y="466.9" width="8.2" height="8.2" fill="#000"/>
<rect x="609.4" y="471.1" width="8.2" height="8.2" fill="#000"/>
<rect x="616.7" y="476.2" width="8.2" height="8.2" fill="#000"/>
<rect x="623.3" y="480.9" width="8.2" height="8.2" fill="#000"/>
<rect x="629.7" y="485.5" width="8.2" height="8.2" fill="#000"/>
<rect x="636.1" y="489.1" width="8.2" height="8.2" fill="#000"/>
<rect x="642.5" y="493.2" width="8.2" height="8.2" fill="#000"/>
<rect x="649" y="496.7" width="8.2" height="8.2" fill="#000"/>
<rect x="653.4" y="499.4" width="8.2" height="8.2" fill="#000"/>
<text x="453.6" y="494.8" text-anchor="start" font-family='"Liberation Serif", serif' font-size="17" fill="#c8171d" stroke="#c8171d" stroke-width="0.2">G-P&#160; : LSE = 0.0352</text>
<text x="453.6" y="514" text-anchor="start" font-family='"Liberation Serif", serif' font-size="17" fill="#4c76ae" stroke="#4c76ae" stroke-width="0.2">N.B. : LSE = 0.0902</text>
</svg>
</body></html>
